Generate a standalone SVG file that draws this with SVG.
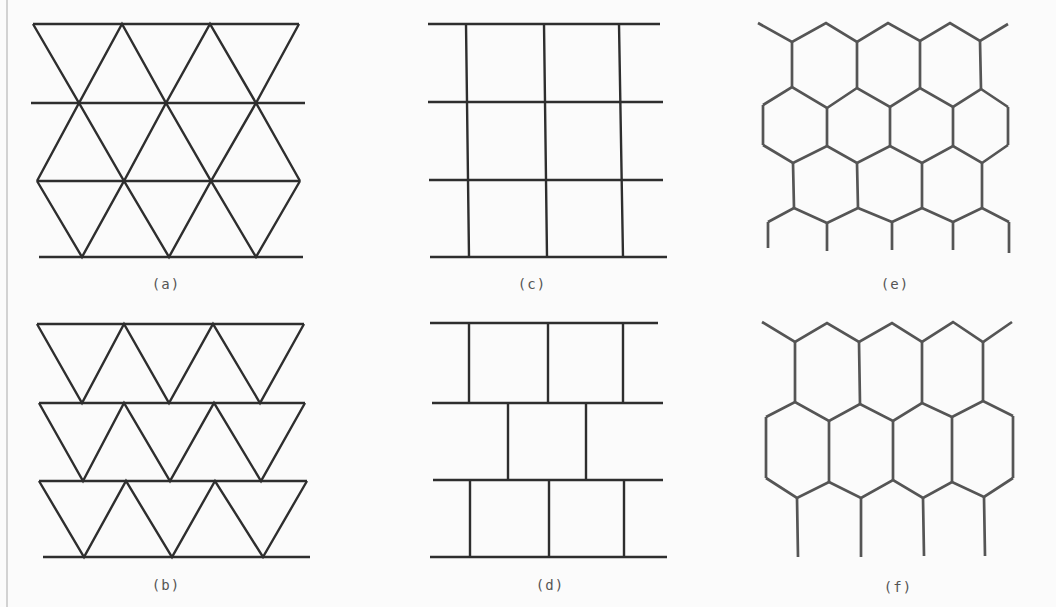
<svg xmlns="http://www.w3.org/2000/svg" width="1056" height="607" viewBox="0 0 1056 607">
<style>
.ln{fill:none;stroke:#2e2e2e;stroke-width:2.4;stroke-linejoin:miter;stroke-linecap:butt}
.hx{fill:none;stroke:#555;stroke-width:2.7;stroke-linejoin:miter;stroke-linecap:butt}
.lb{font-family:"DejaVu Sans Mono","Liberation Mono",monospace;font-size:14px;fill:#555;text-anchor:middle;letter-spacing:1px}
</style>
<rect width="1056" height="607" fill="#fbfbfb"/>
<line x1="7" y1="0" x2="7" y2="607" stroke="#c4c4c4" stroke-width="1.5"/>
<g id="panel-a">
<path class="ln" d="M33,24H299M31,103H305M37,181H300M39,257H303"/>
<polyline class="ln" points="33,24 79,103 122,24 166,103 210,24 256,103 299,24"/>
<polyline class="ln" points="37,181 79,103 124,181 166,103 211,181 256,103 300,181"/>
<polyline class="ln" points="37,181 82,257 124,181 169,257 211,181 256,257 300,181"/>
<text class="lb" x="166" y="289">(a)</text>
</g>
<g id="panel-b">
<path class="ln" d="M37,324H304M39,403H305M39,481H307M43,557H310"/>
<polyline class="ln" points="37,324 82,403 124,324 169,403 213,324 260,403 304,324"/>
<polyline class="ln" points="39,403 83,481 124,403 170,481 214,403 261,481 305,403"/>
<polyline class="ln" points="39,481 84,557 126,481 172,557 215,481 263,557 307,481"/>
<text class="lb" x="166" y="590">(b)</text>
</g>
<g id="panel-c">
<path class="ln" d="M428,24H660M428,102H663M429,180H663M430,257H667"/>
<path class="ln" d="M466,24L469,257M544,24L547,257M619,24L623,257"/>
<text class="lb" x="532" y="289">(c)</text>
</g>
<g id="panel-d">
<path class="ln" d="M430,323H658M432,403H663M433,480H663M430,557H667"/>
<path class="ln" d="M469,323V403M548,323V403M623,323V403"/>
<path class="ln" d="M508,403V480M586,403V480"/>
<path class="ln" d="M470,480V557M549,480V557M624,480V557"/>
<text class="lb" x="550" y="590">(d)</text>
</g>
<g id="panel-e">
<polyline class="hx" points="758,23 792,42 826,23 857,42 888,23 920,41 950,23 980,41 1008,24"/>
<path class="hx" d="M792,42V87M857,42V88M920,41V88M980,41L981,89"/>
<polyline class="hx" points="763,105 792,87 827,108 857,88 890,107 920,88 953,107 981,89 1008,107"/>
<path class="hx" d="M763,105V145M827,108V146M890,107V146M953,107V146M1008,107V145"/>
<polyline class="hx" points="763,145 793,163 827,146 857,163 890,146 922,163 953,146 982,163 1008,145"/>
<path class="hx" d="M793,163L794,208M857,163L858,208M922,163V208M982,163V208"/>
<polyline class="hx" points="768,222 794,208 827,223 858,208 892,222 922,208 953,222 982,208 1009,222"/>
<path class="hx" d="M768,222V248M827,223V251M892,222V250M953,222V250M1009,222V253"/>
<text class="lb" x="895" y="289">(e)</text>
</g>
<g id="panel-f">
<polyline class="hx" points="762,322 795,342 827,323 859,342 892,323 922,342 953,322 983,342 1012,322"/>
<path class="hx" d="M795,342V402M859,342L860,404M922,342V403M983,342V401"/>
<polyline class="hx" points="766,417 795,402 829,421 860,404 893,421 922,403 952,417 983,401 1013,416"/>
<path class="hx" d="M766,417V478M829,421V482M893,421V480M952,417V482M1013,416V478"/>
<polyline class="hx" points="766,478 797,498 829,482 861,498 893,480 923,498 952,482 984,497 1013,478"/>
<path class="hx" d="M797,498L798,557M861,498V557M923,498L924,556M984,497L985,556"/>
<text class="lb" x="898" y="592">(f)</text>
</g>
</svg>
